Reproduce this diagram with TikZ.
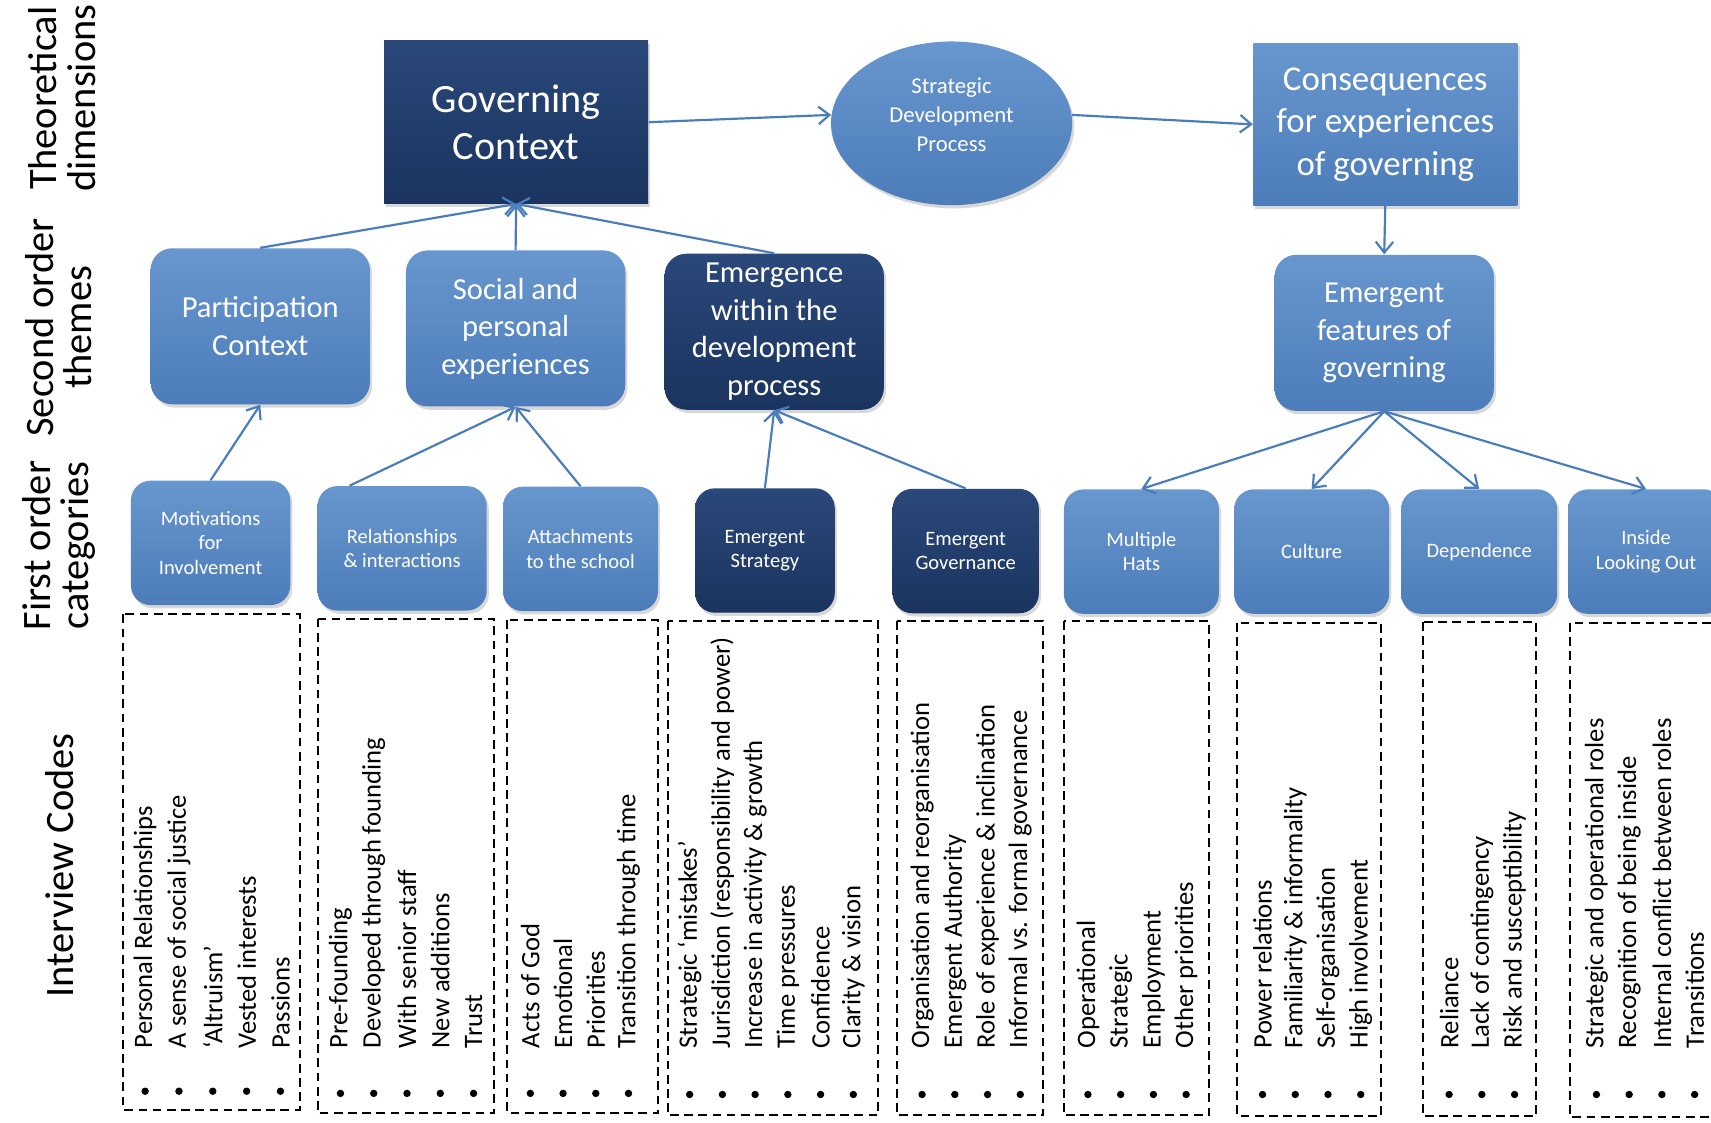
\documentclass[tikz,border=0pt]{standalone}
\usepackage{fontspec}
\setmainfont{Carlito}
\usetikzlibrary{arrows.meta,shapes.geometric,shadows}

\definecolor{boxblue}{RGB}{76,125,186}
\definecolor{boxblueL}{RGB}{104,150,206}
\definecolor{boxnavy}{RGB}{27,52,95}
\definecolor{boxnavyL}{RGB}{42,72,122}
\definecolor{linkblue}{RGB}{74,126,187}

\tikzset{
  box/.style={draw=none, text=white, align=center, inner sep=2pt,
    top color=boxblueL, bottom color=boxblue,
    drop shadow={opacity=0.3, shadow xshift=1pt, shadow yshift=-1.5pt}},
  navybox/.style={box, top color=boxnavyL, bottom color=boxnavy},
  dimension/.style={minimum width=121pt, minimum height=74.5pt},
  theme/.style={rounded corners=10pt, minimum width=100.5pt, minimum height=71.5pt,
    font=\fontsize{14}{17.2}\selectfont},
  category/.style={rounded corners=9pt, minimum height=57pt,
    font=\fontsize{9.4}{11.2}\selectfont},
  link/.style={draw=linkblue, line width=1pt, -{Straight Barb[length=5pt,width=8pt]}},
  codebox/.style={draw, dash pattern=on 4pt off 2.5pt, line width=0.9pt},
  code/.style={rotate=90, anchor=west, inner sep=0pt, font=\fontsize{12.2}{14}\selectfont},
  rowlabel/.style={rotate=90, align=center, font=\fontsize{18.5}{17.5}\selectfont}
}

\begin{document}
\begin{tikzpicture}[x=0.5pt,y=-0.5pt]
\useasboundingbox (0,0) rectangle (1568,1029);
\clip (0,0) rectangle (1568,1029);
\fill[white] (0,0) rectangle (1568,1029);

% level labels on the left
\node[rowlabel] (dimlab) at (57,90) {Theoretical\\dimensions};
\node[rowlabel] (themelab) at (54,300) {Second order\\themes};
\node[rowlabel] (catlab) at (54,500) {First order\\categories};
\node[rowlabel] (codelab) at (55,793) {Interview Codes};

% theoretical dimensions
\node[navybox, dimension, font=\fontsize{18.4}{21.5}\selectfont] (gov) at (473,112) {Governing\\Context};
\node[box, ellipse, minimum width=110.5pt, minimum height=75pt] (sdp) at (872,113) {};
\node[text=white, align=center, font=\fontsize{10.4}{13.25}\selectfont] (sdptxt)
  at ([yshift=4pt]sdp.center) {Strategic\\Development\\Process};
\node[box, dimension, font=\fontsize{16}{19.5}\selectfont] (cons) at (1269.5,114) {Consequences\\for experiences\\of governing};

% second order themes
\node[box, theme] (part) at (238.5,299) {Participation\\Context};
\node[box, theme] (soc) at (472.5,301) {Social and\\personal\\experiences};
\node[navybox, theme] (emer) at (709.5,304) {Emergence\\within the\\development\\process};
\node[box, theme] (feat) at (1268.5,305) {Emergent\\features of\\governing};

% first order categories
\node[box, category, minimum width=73pt] (motiv) at (193,497.5) {Motivations\\for\\Involvement};
\node[box, category, minimum width=77.5pt] (rel) at (368.5,502.5) {Relationships\\\& interactions};
\node[box, category, minimum width=71pt] (att) at (532,503) {Attachments\\to the school};
\node[navybox, category, minimum width=64pt] (estr) at (701,504.5) {Emergent\\Strategy};
\node[navybox, category, minimum width=67pt] (egov) at (885,505) {Emergent\\Governance};
\node[box, category, minimum width=71pt] (hats) at (1046,505.5) {Multiple\\Hats};
\node[box, category, minimum width=71pt] (cult) at (1202,505.5) {Culture};
\node[box, category, minimum width=71.5pt] (dep) at (1355.5,505.5) {Dependence};
\node[box, category, minimum width=71.5pt] (ins) at (1508.5,505.5) {Inside\\Looking Out};

% arrows between levels
\draw[link] (gov.east) -- (sdp.176);
\draw[link] (sdp.4) -- (cons.west);
\draw[link] (cons.south) -- (feat.north);
\draw[link] (part.north) -- (gov.south);
\draw[link] (soc.north) -- (gov.south);
\draw[link] (emer.north) -- (gov.south);
\draw[link] (motiv.north) -- (part.south);
\draw[link] (rel.130) -- (soc.south);
\draw[link] (att.north) -- (soc.south);
\draw[link] (estr.north) -- (emer.south);
\draw[link] (egov.north) -- (emer.south);
\foreach \c in {hats,cult,dep,ins}
  \draw[link] (feat.south) -- (\c.north);

% interview codes
\draw[codebox] (113,563) rectangle (275,1017);
\foreach \t [count=\i from 0] in {Personal Relationships, A sense of social justice, ‘Altruism’, Vested interests, Passions}
  {\node[code] (mo\i) at (133+31*\i,961) {\t}; \fill (133+31*\i,1000) circle (1.7pt);}

\draw[codebox] (291,567) rectangle (453,1020);
\foreach \t [count=\i from 0] in {Pre-founding, Developed through founding, With senior staff, New additions, Trust}
  {\node[code] (re\i) at (312+30.5*\i,961) {\t}; \fill (312+30.5*\i,1002) circle (1.7pt);}

\draw[codebox] (465,568) rectangle (603,1020);
\foreach \t [count=\i from 0] in {Acts of God, Emotional, Priorities, Transition through time}
  {\node[code] (at\i) at (486+30*\i,961) {\t}; \fill (486+30*\i,1002) circle (1.7pt);}

\draw[codebox] (612,569) rectangle (805,1022);
\foreach \t [count=\i from 0] in {Strategic ‘mistakes’, Jurisdiction (responsibility and power), Increase in activity \& growth, Time pressures, Confidence, Clarity \& vision}
  {\node[code] (es\i) at (632+30*\i,961) {\t}; \fill (632+30*\i,1003) circle (1.7pt);}

\draw[codebox] (822,569) rectangle (956,1022);
\foreach \t [count=\i from 0] in {Organisation and reorganisation, Emergent Authority, Role of experience \& inclination, Informal vs. formal governance}
  {\node[code] (eg\i) at (845+30*\i,961) {\t}; \fill (845+30*\i,1003) circle (1.7pt);}

\draw[codebox] (975,569) rectangle (1108,1022);
\foreach \t [count=\i from 0] in {Operational, Strategic, Employment, Other priorities}
  {\node[code] (mh\i) at (997+30*\i,961) {\t}; \fill (997+30*\i,1003) circle (1.7pt);}

\draw[codebox] (1134,571) rectangle (1266,1023);
\foreach \t [count=\i from 0] in {Power relations, Familiarity \& informality, Self-organisation, High involvement}
  {\node[code] (cu\i) at (1157+30*\i,961) {\t}; \fill (1157+30*\i,1003) circle (1.7pt);}

\draw[codebox] (1304,570) rectangle (1408,1023);
\foreach \t [count=\i from 0] in {Reliance, Lack of contingency, Risk and susceptibility}
  {\node[code] (de\i) at (1328+30*\i,961) {\t}; \fill (1328+30*\i,1003) circle (1.7pt);}

\draw[codebox] (1439,571) rectangle (1590,1024);
\foreach \t [count=\i from 0] in {Strategic and operational roles, Recognition of being inside, Internal conflict between roles, Transitions}
  {\node[code] (in\i) at (1463+30*\i,961) {\t}; \fill (1463+30*\i,1003) circle (1.7pt);}

\end{tikzpicture}
\end{document}
